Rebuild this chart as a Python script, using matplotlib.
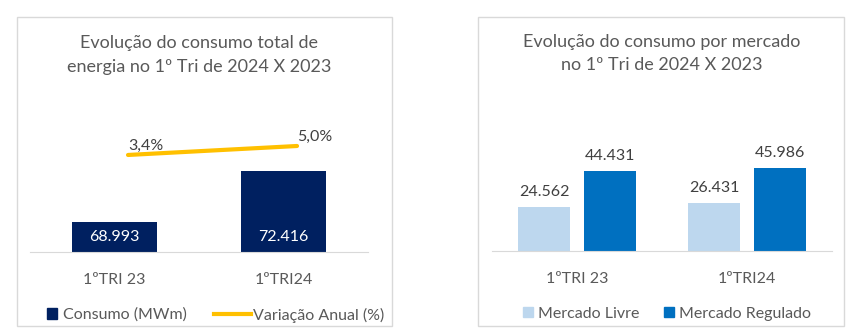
import matplotlib
matplotlib.use("Agg")
import matplotlib.pyplot as plt
import numpy as np
from matplotlib.patches import Rectangle
from matplotlib.lines import Line2D

plt.rcParams['font.family'] = ['Lato', 'DejaVu Sans']

# dados
categorias = ['1ºTRI 23', '1ºTRI24']
consumo_mwm = [68993, 72416]
variacao_pct = [3.4, 5.0]
mercado_livre = [24562, 26431]
mercado_regulado = [44431, 45986]

TXT = '#595959'
GRID = '#D9D9D9'
NAVY = '#002060'
GOLD = '#FFC000'
LIGHT = '#BDD7EE'
BLUE = '#0070C0'

W, H = 863, 336
fig = plt.figure(figsize=(W / 100, H / 100), dpi=100)


def fx(px):
    return px / W


def fy(py):
    return 1 - py / H


def fmt(v):
    return f"{v:,.0f}".replace(',', '.')


def legend_item(handle, label, x_px, y_px, hlen, hpad):
    # uma entrada de legenda, com a alça começando em x_px
    fig.legend([handle], [label], loc='center left',
               bbox_to_anchor=(fx(x_px), fy(y_px)), frameon=False, fontsize=11.5,
               labelcolor=TXT, handlelength=hlen, handleheight=0.6,
               handletextpad=hpad, borderpad=0, borderaxespad=0)


# molduras dos dois painéis
for x0, x1 in [(17, 392), (478, 844)]:
    fig.patches.append(Rectangle((fx(x0), fy(326)), fx(x1 - x0), (326 - 17) / H,
                                 transform=fig.transFigure, fill=False,
                                 edgecolor=GRID, lw=1))

# ---------- painel esquerdo ----------
ax1 = fig.add_axes([fx(30), fy(252), fx(338), 152 / H])
x = np.arange(len(categorias))
ax1.bar(x, consumo_mwm, width=0.5, color=NAVY)
ax1.set_ylim(67000, 77170)
ax1.set_xlim(-0.5, 1.5)
for xi, v in zip(x, consumo_mwm):
    ax1.text(xi, 67000 + 520, fmt(v), ha='center', va='bottom', color='white', fontsize=11.5)

ax1b = ax1.twinx()
ax1b.plot(x + 0.08, variacao_pct, color=GOLD, lw=3, solid_capstyle='round')
ax1b.set_ylim(-13.9, 13.2)
for xi, v in zip(x, variacao_pct):
    ax1b.text(xi + 0.08, v + 0.3, f"{v:.1f}%".replace('.', ','), ha='left', va='bottom',
              color='#404040', fontsize=11.5)

for a in (ax1, ax1b):
    for s in a.spines.values():
        s.set_visible(False)
    a.set_yticks([])
ax1.spines['bottom'].set_visible(True)
ax1.spines['bottom'].set_color(GRID)
ax1.set_xticks(x)
ax1.set_xticklabels(categorias, color=TXT, fontsize=11.5)
ax1.tick_params(axis='x', length=0, pad=15)

fig.text(fx(199), fy(43), 'Evolução do consumo total de', ha='center', va='center',
         color=TXT, fontsize=13)
fig.text(fx(199), fy(67), 'energia no 1º Tri de 2024 X 2023', ha='center', va='center',
         color=TXT, fontsize=13)

legend_item(Rectangle((0, 0), 1, 1, color=NAVY), 'Consumo (MWm)', 47, 315, 0.6, 0.4)
legend_item(Line2D([], [], color=GOLD, lw=3), 'Variação Anual (%)', 214, 315, 2.3, 0.15)

# ---------- painel direito ----------
ax2 = fig.add_axes([fx(492), fy(251), fx(340), 151 / H])
bw = 0.306
off = 0.194
ax2.bar(x - off, mercado_livre, width=bw, color=LIGHT)
ax2.bar(x + off, mercado_regulado, width=bw, color=BLUE)
ax2.set_ylim(0, 151 * 556)
ax2.set_xlim(-0.5, 1.5)
for xi, v in zip(x - off, mercado_livre):
    ax2.text(xi, v + 4500, fmt(v), ha='center', va='bottom', color='#404040', fontsize=11.5)
for xi, v in zip(x + off, mercado_regulado):
    ax2.text(xi, v + 4500, fmt(v), ha='center', va='bottom', color='#404040', fontsize=11.5)
for s in ax2.spines.values():
    s.set_visible(False)
ax2.spines['bottom'].set_visible(True)
ax2.spines['bottom'].set_color(GRID)
ax2.set_yticks([])
ax2.set_xticks(x)
ax2.set_xticklabels(categorias, color=TXT, fontsize=11.5)
ax2.tick_params(axis='x', length=0, pad=15)

fig.text(fx(662), fy(42), 'Evolução do consumo por mercado', ha='center', va='center',
         color=TXT, fontsize=13)
fig.text(fx(662), fy(65), 'no 1º Tri de 2024 X 2023', ha='center', va='center',
         color=TXT, fontsize=13)

legend_item(Rectangle((0, 0), 1, 1, color=LIGHT), 'Mercado Livre', 523, 314, 0.6, 0.35)
legend_item(Rectangle((0, 0), 1, 1, color=BLUE), 'Mercado Regulado', 664, 314, 0.6, 0.35)

fig.savefig('out.png', dpi=100, facecolor='white')
